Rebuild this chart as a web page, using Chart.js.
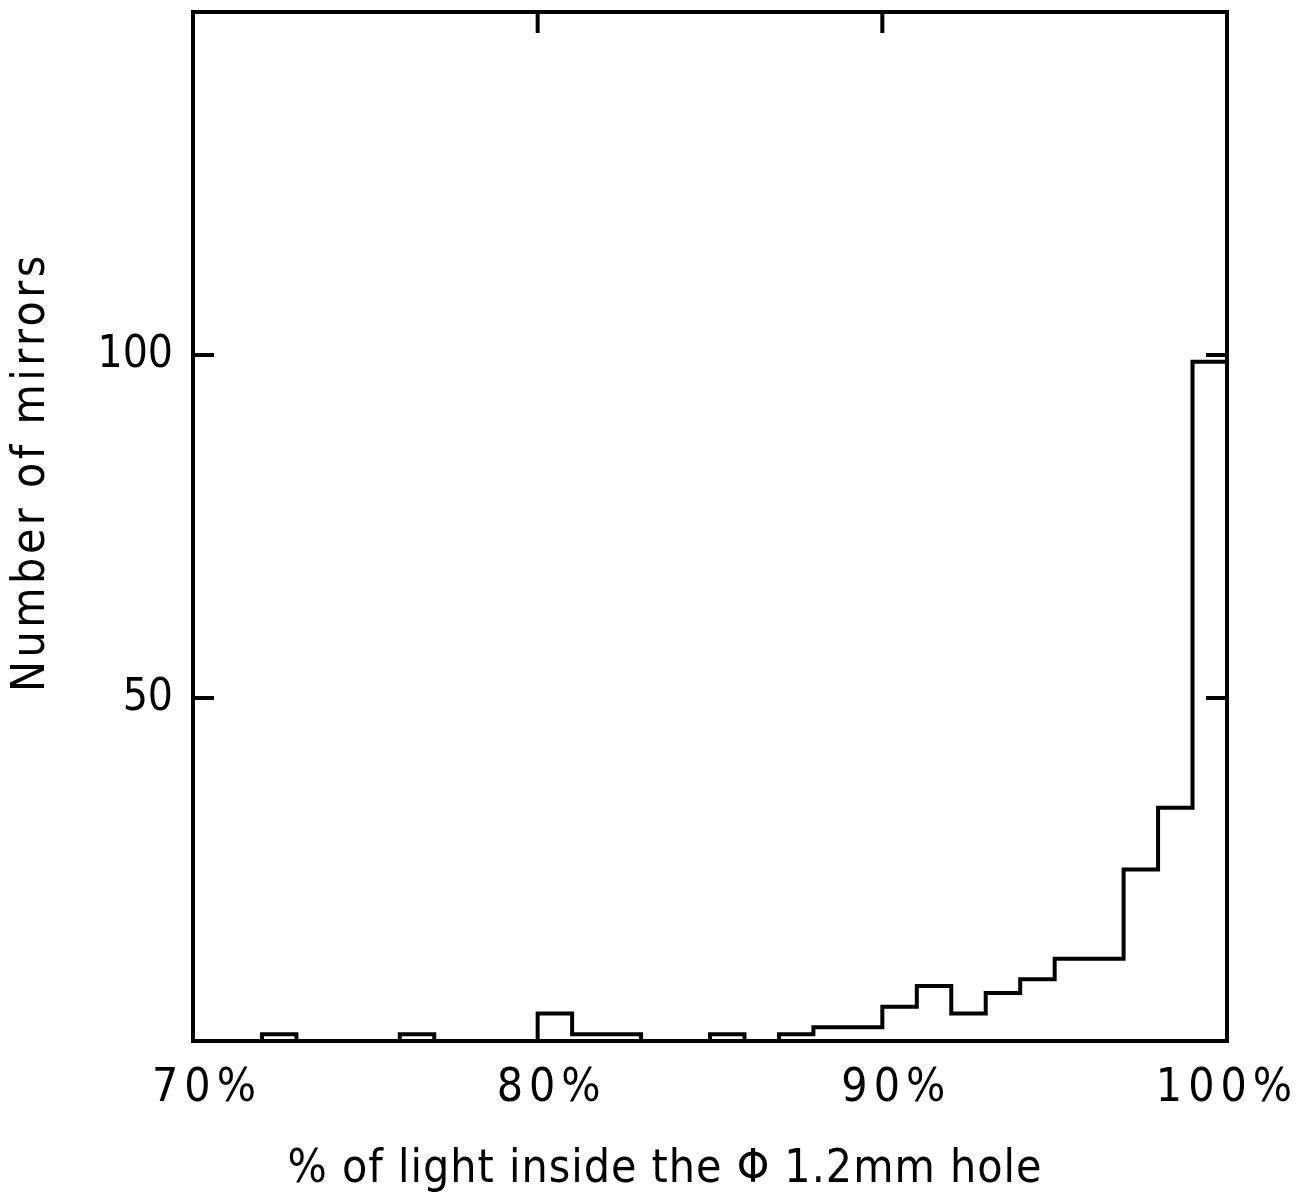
<!DOCTYPE html>
<html>
<head>
<meta charset="utf-8">
<script src="https://cdn.jsdelivr.net/npm/chart.js@4.4.0/dist/chart.umd.min.js"></script>
<style>
  html, body { margin: 0; padding: 0; background: #fff; }
  #wrap { width: 1313px; height: 1198px; }
</style>
</head>
<body>
<div id="wrap"><canvas id="grafico" width="1313" height="1198"></canvas></div>
<script>
// bin left edges (%) and number of mirrors per 1% bin
const binEdges = [70, 71, 72, 73, 74, 75, 76, 77, 78, 79, 80, 81, 82, 83, 84,
                  85, 86, 87, 88, 89, 90, 91, 92, 93, 94, 95, 96, 97, 98, 99];
const counts   = [0, 0, 1, 0, 0, 0, 1, 0, 0, 0, 4, 1, 1, 0, 0,
                  1, 0, 1, 2, 2, 5, 8, 4, 7, 9, 12, 12, 25, 34, 99];
const xTicks = [70, 80, 90, 100];
const yTicks = [50, 100];
const innerXTicks = [80, 90];

const xTitle = "% of light inside the \u03A6 1.2mm hole";
const yTitle = "Number of mirrors";

const FONT = '"DejaVu Sans Condensed", "DejaVu Sans", sans-serif';

// stepped outline: one point per left edge, plus closing point at 100
const pontos = binEdges.map((x, i) => ({ x: x, y: counts[i] }));
pontos.push({ x: 100, y: counts[counts.length - 1] });

// frame, inward ticks, tick labels and the two axis titles
const moldura = {
  id: 'moldura',
  afterDraw(chart) {
    const ctx = chart.ctx;
    const a = chart.chartArea;
    const sx = chart.scales.x, sy = chart.scales.y;
    const len = 21;
    ctx.save();
    ctx.strokeStyle = '#000';
    ctx.lineWidth = 4;
    ctx.strokeRect(a.left, a.top, a.right - a.left, a.bottom - a.top);
    ctx.beginPath();
    innerXTicks.forEach(v => {
      const px = sx.getPixelForValue(v);
      ctx.moveTo(px, a.top);
      ctx.lineTo(px, a.top + len);
    });
    yTicks.forEach(v => {
      const py = sy.getPixelForValue(v);
      ctx.moveTo(a.left, py);
      ctx.lineTo(a.left + len, py);
      ctx.moveTo(a.right, py);
      ctx.lineTo(a.right - len, py);
    });
    ctx.stroke();

    ctx.fillStyle = '#000';
    ctx.textBaseline = 'middle';

    // x tick labels (slightly right of the tick, like the original)
    ctx.font = '46px ' + FONT;
    ctx.letterSpacing = '6px';
    ctx.textAlign = 'center';
    xTicks.forEach(v => {
      const px = sx.getPixelForValue(v);
      const desloc = v === 100 ? 0 : 14;
      ctx.fillText(v + '%', px + desloc, a.bottom + 48);
    });

    // y tick labels
    ctx.font = '44px ' + FONT;
    ctx.letterSpacing = '0px';
    ctx.textAlign = 'right';
    yTicks.forEach(v => {
      ctx.fillText(String(v), a.left - 20, sy.getPixelForValue(v) + 1);
    });

    // titles
    ctx.textAlign = 'center';
    ctx.font = '46px ' + FONT;
    ctx.letterSpacing = '1px';
    ctx.fillText(xTitle, 665, 1170);
    ctx.translate(32, 472);
    ctx.rotate(-Math.PI / 2);
    ctx.letterSpacing = '3.5px';
    ctx.fillText(yTitle, 0, 0);
    ctx.restore();
  }
};

const ctx = document.getElementById('grafico').getContext('2d');

new Chart(ctx, {
  type: 'line',
  data: {
    datasets: [{
      data: pontos,
      stepped: 'before',
      borderColor: '#000',
      borderWidth: 4,
      pointRadius: 0,
      fill: false
    }]
  },
  options: {
    responsive: false,
    animation: false,
    layout: { padding: { top: 12, right: 86, left: 0, bottom: 0 } },
    plugins: {
      legend: { display: false },
      tooltip: { enabled: false }
    },
    scales: {
      x: {
        type: 'linear',
        min: 70,
        max: 100,
        afterFit: s => { s.height = 157; s.paddingLeft = 0; s.paddingRight = 0; },
        afterBuildTicks: s => { s.ticks = xTicks.map(v => ({ value: v })); },
        grid: { display: false, drawTicks: false },
        border: { display: false },
        ticks: { display: false }
      },
      y: {
        min: 0,
        max: 150,
        afterFit: s => { s.width = 193; s.paddingTop = 0; s.paddingBottom = 0; },
        afterBuildTicks: s => { s.ticks = yTicks.map(v => ({ value: v })); },
        grid: { display: false, drawTicks: false },
        border: { display: false },
        ticks: { display: false }
      }
    }
  },
  plugins: [moldura]
});
</script>
</body>
</html>
